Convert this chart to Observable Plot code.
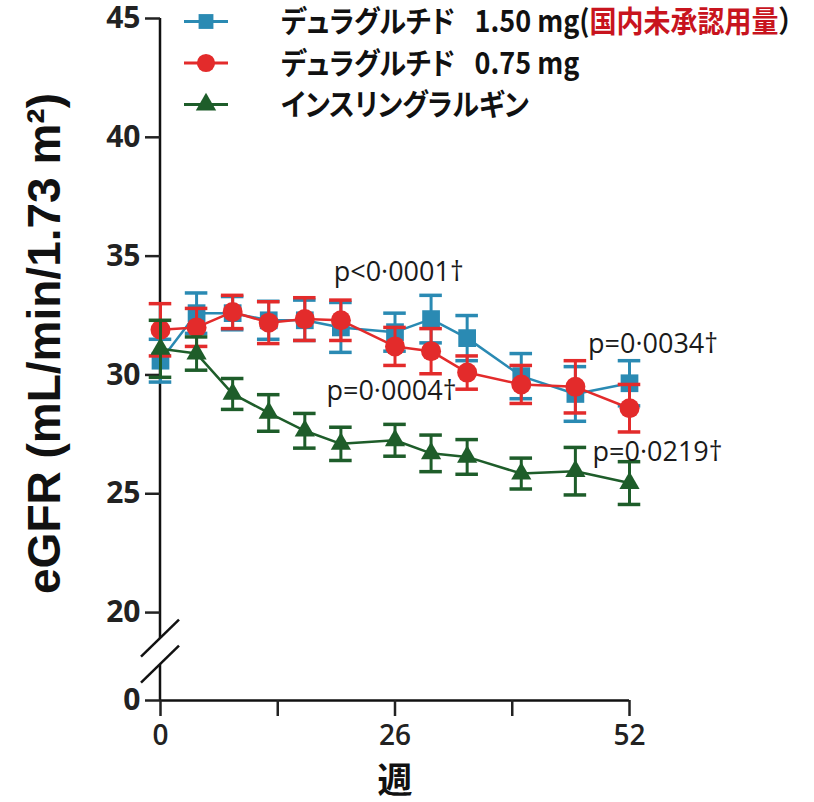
<!DOCTYPE html>
<html>
<head>
<meta charset="utf-8">
<script src="https://cdn.jsdelivr.net/npm/d3@7"></script>
<script src="https://cdn.jsdelivr.net/npm/@observablehq/plot@0.6"></script>
<style>
  html, body { margin: 0; padding: 0; background: #fff; }
  #chart { width: 814px; height: 802px; }
</style>
</head>
<body>
<div id="chart"></div>
<script>
// ---- data ----
const weeks = [0, 4, 8, 12, 16, 20, 26, 30, 34, 40, 46, 52];

const dula150    = [30.6, 32.6, 32.6, 32.3, 32.3, 32.0, 31.8, 32.35, 31.55, 29.95, 29.2, 29.65];
const dula150Err = [0.9, 0.85, 0.7, 0.8, 0.85, 1.05, 0.8, 1.0, 0.95, 0.95, 1.15, 0.95];

const dula075    = [31.9, 32.0, 32.65, 32.2, 32.35, 32.3, 31.2, 31.0, 30.1, 29.6, 29.5, 28.6];
const dula075Err = [1.1, 0.8, 0.7, 0.88, 0.9, 0.85, 0.8, 0.95, 0.7, 0.8, 1.1, 1.0];

const glargine    = [31.1, 30.9, 29.2, 28.4, 27.65, 27.1, 27.25, 26.7, 26.55, 25.85, 25.95, 25.45];
const glargineErr = [1.2, 0.7, 0.65, 0.77, 0.73, 0.7, 0.67, 0.77, 0.73, 0.65, 1.0, 0.9];

const yTicks = [0, 20, 25, 30, 35, 40, 45];
const xTicks = [0, 13, 26, 39, 52];
const xTickLabels = [0, 26, 52];

const pTexts = ["p<0·0001†", "p=0·0004†", "p=0·0034†", "p=0·0219†"];

// [text, colour, proportional kana?]
const legendLabels = [
  [["デュラグルチド\u2002 1.50 mg(", "#111", true], ["国内未承認用量", "#c8141e", true], ["）", "#111", false]],
  [["デュラグルチド\u2002 0.75 mg", "#111", true]],
  [["インスリングラルギン", "#111", true]]
];

// ---- series table ----
const series = [
  {values: dula150, err: dula150Err, color: "#2a8ab3", symbol: "square", r: 10},
  {values: dula075, err: dula075Err, color: "#e32b2b", symbol: "circle", r: 10},
  {values: glargine, err: glargineErr, color: "#1e5d2a", symbol: "triangle", r: 7.5}
];
const tables = series.map(s => weeks.map((w, i) => ({week: w, v: s.values[i], e: s.err[i]})));

const capHalf = 1.25; // weeks

// broken y axis: values below 20 are compressed
const breakAt = 20, compress = 0.185;
const yBreak = v => v >= breakAt ? v : breakAt - (breakAt - v) * compress;
const yUnbreak = t => t >= breakAt ? t : Math.round(breakAt - (breakAt - t) / compress);

const seriesMarks = series.flatMap((s, k) => {
  const t = tables[k];
  return [
    Plot.ruleX(t, {x: "week", y1: d => d.v - d.e, y2: d => d.v + d.e, stroke: s.color, strokeWidth: 3}),
    Plot.ruleY(t, {y: d => d.v + d.e, x1: d => d.week - capHalf, x2: d => d.week + capHalf, stroke: s.color, strokeWidth: 3.5}),
    Plot.ruleY(t, {y: d => d.v - d.e, x1: d => d.week - capHalf, x2: d => d.week + capHalf, stroke: s.color, strokeWidth: 3.5}),
    Plot.line(t, {x: "week", y: "v", stroke: s.color, strokeWidth: 2.5}),
    Plot.dot(t, {x: "week", y: "v", symbol: s.symbol, r: s.r, fill: s.color, stroke: "none"})
  ];
});

// vertical axis line in two segments with the break slashes
function axisLineWithBreak(index, scales, values, dim) {
  const g = d3.create("svg:g").attr("stroke", "#111").attr("stroke-width", 2.5).attr("fill", "none");
  const x0 = scales.x(0);
  const yTop = scales.y(45), yBot = dim.height - dim.marginBottom;
  const y20 = scales.y(breakAt);
  const b1 = y20 + 26, b2 = y20 + 52;
  g.append("line").attr("x1", x0).attr("x2", x0).attr("y1", yTop).attr("y2", b1);
  g.append("line").attr("x1", x0).attr("x2", x0).attr("y1", b2).attr("y2", yBot);
  for (const yc of [b1, b2]) {
    g.append("line").attr("x1", x0 - 19).attr("y1", yc + 18.5).attr("x2", x0 + 19).attr("y2", yc - 18.5);
  }
  return g.node();
}

// legend drawn inside the plot area
function legendMark(index, scales, values, dim) {
  const g = d3.create("svg:g");
  const left = dim.marginLeft;
  const sx = 0.9;
  series.forEach((s, i) => {
    const cy = dim.marginTop + 3.5 + i * 41.5;
    const mx = left + 46;
    g.append("line").attr("x1", mx - 22).attr("x2", mx + 22).attr("y1", cy).attr("y2", cy)
      .attr("stroke", s.color).attr("stroke-width", 3);
    const symType = s.symbol === "square" ? d3.symbolSquare : s.symbol === "circle" ? d3.symbolCircle : d3.symbolTriangle;
    const size = s.symbol === "square" ? 220 : s.symbol === "circle" ? 260 : 180;
    g.append("path").attr("d", d3.symbol(symType, size)()).attr("transform", `translate(${mx},${cy})`)
      .attr("fill", s.color);
    const txt = g.append("text").attr("transform", `scale(${sx},1)`)
      .attr("x", (left + 121) / sx).attr("y", cy).attr("dy", "0.36em")
      .attr("text-anchor", "start")
      .attr("font-family", "'Noto Sans CJK JP', sans-serif").attr("font-weight", "bold")
      .attr("font-size", 30);
    legendLabels[i].forEach(([str, col, palt]) => txt.append("tspan").attr("fill", col)
      .style("font-feature-settings", palt ? "'palt' 1" : "normal").text(str));
  });
  return g.node();
}

const chart = Plot.plot({
  width: 814,
  height: 802,
  marginLeft: 160,
  marginRight: 185,
  marginTop: 18,
  marginBottom: 102,
  style: {fontFamily: "'Open Sans', sans-serif", background: "#fff", overflow: "visible"},
  x: {domain: [0, 52]},
  y: {transform: yBreak, domain: [yBreak(0), 45]},
  marks: [
    Plot.ruleY([0], {stroke: "#111", strokeWidth: 2.5}),
    axisLineWithBreak,
    Plot.axisY({ticks: yTicks.map(yBreak), tickSize: 15, tickPadding: 5, fontSize: 30, fontWeight: "bold",
      color: "#222", strokeWidth: 2.5, label: null, tickFormat: t => String(yUnbreak(t))}),
    Plot.axisX({ticks: xTicks, tickSize: 16, tickPadding: 9, fontSize: 28, fontWeight: 600,
      color: "#222", strokeWidth: 2.5, label: null,
      tickFormat: d => xTickLabels.includes(d) ? String(d) : ""}),
    ...seriesMarks,
    Plot.text([
      {t: pTexts[0], x: 19.2, y: 34.3},
      {t: pTexts[1], x: 18.4, y: 29.3},
      {t: pTexts[2], x: 47.4, y: 31.3},
      {t: pTexts[3], x: 47.9, y: 26.75}
    ], {x: "x", y: "y", text: "t", textAnchor: "start", fontSize: 27, fontWeight: 500, fill: "#1a1a1a"}),
    Plot.text(["週"], {frameAnchor: "bottom", lineAnchor: "middle", dy: 81, fontSize: 35, fontWeight: "bold",
      fontFamily: "'Noto Sans CJK JP', sans-serif", fill: "#111"}),
    Plot.text(["eGFR (mL/min/1.73 m²)"], {frameAnchor: "left", textAnchor: "middle", rotate: -90, dx: -115, dy: -16,
      fontSize: 46, fontWeight: "bold", fontFamily: "'Liberation Sans', Arial, sans-serif", fill: "#111"}),
    legendMark
  ]
});
document.getElementById("chart").append(chart);
</script>
</body>
</html>
